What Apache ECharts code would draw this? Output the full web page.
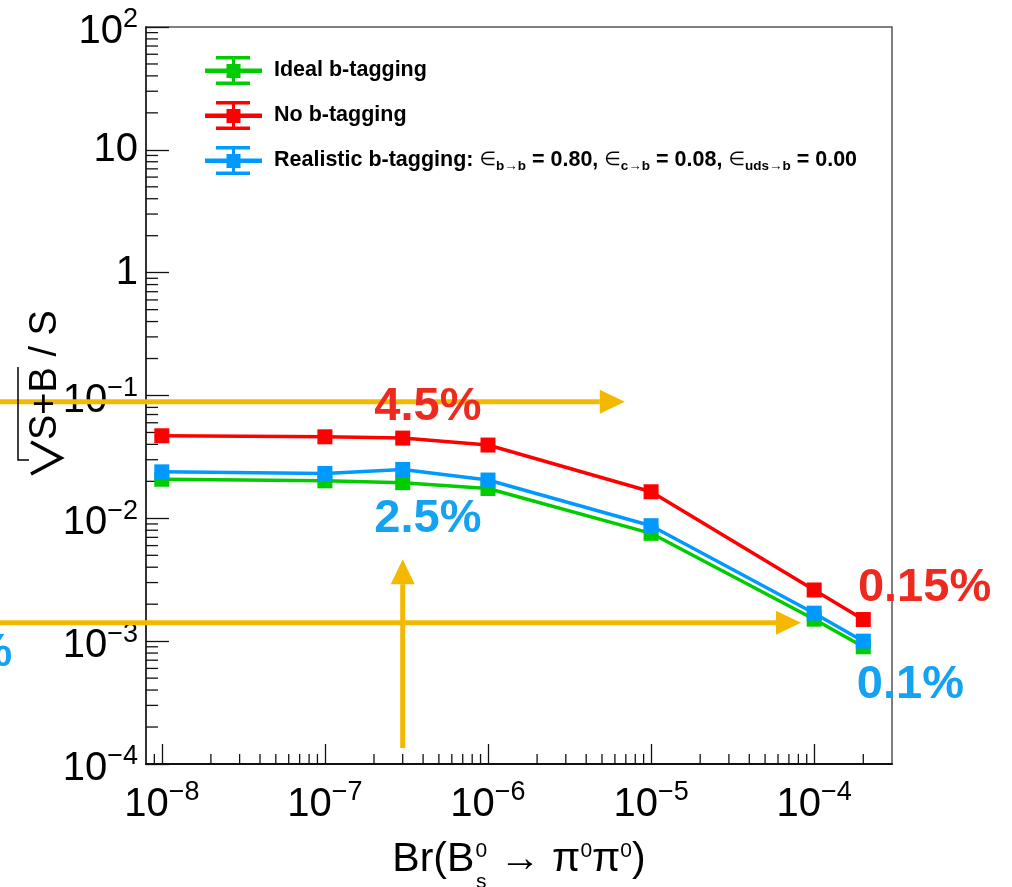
<!DOCTYPE html>
<html>
<head>
<meta charset="utf-8">
<script src="https://cdn.jsdelivr.net/npm/echarts@6/dist/echarts.min.js"></script>
<style>
  html, body { margin: 0; padding: 0; background: #ffffff; }
  #chart { width: 1012px; height: 887px; }
</style>
</head>
<body>
<div id="chart"></div>
<script>
const FONT = "'Liberation Sans', Arial, Helvetica, sans-serif";

// Branching ratios at which the precision was evaluated
const branchingRatios = [1e-8, 1e-7, 3e-7, 1e-6, 1e-5, 1e-4, 2e-4];

// sqrt(S+B)/S for each b-tagging scenario
const idealTagging     = [0.0208, 0.0202, 0.0195, 0.0175, 0.00755, 0.00151, 0.00090];
const noTagging        = [0.0470, 0.0461, 0.0450, 0.0395, 0.01645, 0.00261, 0.00150];
const realisticTagging = [0.0239, 0.0232, 0.0250, 0.0205, 0.00871, 0.00169, 0.00100];

const seriesNames  = ['Ideal b-tagging', 'No b-tagging', 'Realistic b-tagging'];
const seriesColors = ['#00cc00', '#ff0000', '#0099ff'];

// Axis ranges and minor tick multipliers inside each decade
const xRange = [8e-9, 3e-4];
const yRange = [1e-4, 1e2];
const minorMultipliers = [2, 3, 4, 5, 6, 7, 8, 9];

// Highlight arrows (data coordinates): start -> end
const arrowStartX = [1e-9, 1e-9, 3e-7];
const arrowStartY = [0.0889, 0.00141, 1.35e-4];
const arrowEndX   = [6.9e-6, 8.3e-5, 3e-7];
const arrowEndY   = [0.0889, 0.00141, 0.00464];

// Percentage notes (data coordinates)
const noteTexts  = ['4.5%', '2.5%', '0.15%', '0.1%', '0.1%'];
const noteX      = [4.28e-7, 4.28e-7, 4.75e-4, 3.89e-4, 1.21e-9];
const noteY      = [0.081, 0.0099, 0.00272, 0.000440, 0.0008];
const noteColors = ['#ee2a1f', '#14a2f2', '#ee2a1f', '#14a2f2', '#14a2f2'];
const noteAlign  = ['center', 'center', 'center', 'center', 'right'];

const ARROW_COLOR = '#f5b800';

function pairs(xs, ys) { return xs.map((x, i) => [x, ys[i]]); }

function minorTickValues(range) {
  const out = [];
  const lo = Math.floor(Math.log10(range[0]));
  const hi = Math.ceil(Math.log10(range[1]));
  for (let d = lo; d < hi; d++) {
    for (const m of minorMultipliers) {
      const v = m * Math.pow(10, d);
      if (v > range[0] * 1.0001 && v < range[1] * 0.9999) out.push(v);
    }
  }
  return out;
}

function powerLabel(v) {
  const lg = Math.log10(v);
  const e = Math.round(lg);
  if (Math.abs(lg - e) > 1e-6) return '';
  if (e === 0) return '{p|1}';
  if (e === 1) return '{p|10}';
  return '{m|10}{s|' + (e < 0 ? '\u2212' : '') + Math.abs(e) + '}';
}

const tickRich = {
  p: { fontFamily: FONT, fontSize: 40, lineHeight: 40, color: '#000', verticalAlign: 'middle' },
  m: { fontFamily: FONT, fontSize: 40, lineHeight: 40, height: 30, color: '#000', verticalAlign: 'bottom' },
  s: { fontFamily: FONT, fontSize: 27, lineHeight: 40, height: 26, color: '#000', verticalAlign: 'top' }
};

// Error-bar style legend glyph
const errorBarIcon = 'path://M0,12.5h57v4.5h-57z M27,0h3v29h-3z M11,0h34v3.5h-34z M11,25.5h34v3.5h-34z M21.5,8h14v14h-14z';

const lineSeries = [idealTagging, noTagging, realisticTagging].map((vals, i) => ({
  name: seriesNames[i],
  type: 'line',
  data: pairs(branchingRatios, vals),
  color: seriesColors[i],
  symbol: 'rect',
  symbolSize: 15,
  lineStyle: { width: 3.5, color: seriesColors[i] },
  itemStyle: { color: seriesColors[i] },
  emphasis: { disabled: true },
  z: 3 + i
}));

const xMinorSeries = {
  type: 'custom',
  silent: true,
  z: 2,
  data: minorTickValues(xRange).map(v => [v, yRange[0]]),
  renderItem(params, api) {
    const p = api.coord([api.value(0), api.value(1)]);
    return { type: 'line', shape: { x1: p[0], y1: p[1], x2: p[0], y2: p[1] - 10 },
             style: { stroke: '#111', lineWidth: 1.3 } };
  }
};

const yMinorSeries = {
  type: 'custom',
  silent: true,
  z: 2,
  data: minorTickValues(yRange).map(v => [xRange[0], v]),
  renderItem(params, api) {
    const p = api.coord([api.value(0), api.value(1)]);
    return { type: 'line', shape: { x1: p[0], y1: p[1], x2: p[0] + 12, y2: p[1] },
             style: { stroke: '#111', lineWidth: 1.3 } };
  }
};

const arrowSeries = {
  type: 'custom',
  silent: true,
  clip: false,
  z: 6,
  data: arrowStartX.map((x, i) => [x, arrowStartY[i], arrowEndX[i], arrowEndY[i]]),
  encode: { x: [0, 2], y: [1, 3] },
  renderItem(params, api) {
    const a = api.coord([api.value(0), api.value(1)]);
    const b = api.coord([api.value(2), api.value(3)]);
    const dx = b[0] - a[0], dy = b[1] - a[1];
    const len = Math.sqrt(dx * dx + dy * dy);
    const ux = dx / len, uy = dy / len;
    const headLen = 25, headHalf = 12;
    const bx = b[0] - ux * headLen, by = b[1] - uy * headLen;
    return {
      type: 'group',
      children: [
        { type: 'line', shape: { x1: a[0], y1: a[1], x2: bx, y2: by },
          style: { stroke: ARROW_COLOR, lineWidth: 5 } },
        { type: 'polygon', shape: { points: [
            [b[0], b[1]],
            [bx - uy * headHalf, by + ux * headHalf],
            [bx + uy * headHalf, by - ux * headHalf]
          ] }, style: { fill: ARROW_COLOR } }
      ]
    };
  }
};

const noteSeries = {
  type: 'custom',
  silent: true,
  clip: false,
  z: 7,
  data: pairs(noteX, noteY),
  renderItem(params, api) {
    const i = params.dataIndex;
    const p = api.coord([api.value(0), api.value(1)]);
    return {
      type: 'text',
      x: p[0], y: p[1],
      style: {
        text: noteTexts[i], fill: noteColors[i],
        fontFamily: FONT, fontSize: 47, fontWeight: 'bold',
        align: noteAlign[i], verticalAlign: 'middle'
      }
    };
  }
};

const legendRich = {
  gap: { width: 7, fontSize: 21 },
  t: { fontFamily: FONT, fontSize: 21.5, fontWeight: 'bold', color: '#000', lineHeight: 24, verticalAlign: 'middle' },
  e: { fontFamily: "'DejaVu Sans', " + FONT, fontSize: 19, fontWeight: 'normal', color: '#000', lineHeight: 24, verticalAlign: 'middle' },
  u: { fontFamily: FONT, fontSize: 13.5, fontWeight: 'bold', color: '#000', lineHeight: 24, height: 12, verticalAlign: 'bottom' }
};

const option = {
  backgroundColor: '#ffffff',
  animation: false,
  grid: {
    left: 146, top: 27, right: 120, bottom: 123,
    show: true, borderColor: '#555', borderWidth: 1.5,
    containLabel: false, outerBoundsMode: 'none'
  },
  legend: {
    orient: 'vertical',
    left: 205, top: 56, padding: 0,
    itemWidth: 57, itemHeight: 29, itemGap: 16,
    selectedMode: false,
    data: seriesNames.map(n => ({ name: n, icon: errorBarIcon })),
    formatter(name) {
      if (name === 'Realistic b-tagging') {
        return '{gap| }{t|Realistic b-tagging: }{e|\u2208}{u|b\u2192b}{t| = 0.80, }{e|\u2208}{u|c\u2192b}{t| = 0.08, }{e|\u2208}{u|uds\u2192b}{t| = 0.00}';
      }
      return '{gap| }{t|' + name + '}';
    },
    textStyle: { fontFamily: FONT, fontSize: 21.5, fontWeight: 'bold', color: '#000', rich: legendRich }
  },
  xAxis: {
    type: 'log', logBase: 10,
    min: xRange[0], max: xRange[1],
    splitLine: { show: false },
    axisLine: { show: true, lineStyle: { color: '#111', width: 2 } },
    axisTick: { show: true, inside: true, length: 20, lineStyle: { color: '#111', width: 1.3 } },
    axisLabel: {
      margin: 16, showMinLabel: false, showMaxLabel: false,
      formatter: powerLabel, rich: tickRich
    },
    name: '{n|Br(B}{sp| }{sb|s}{su|0}{sp| }{n| \u2192 \u03c0}{sq|0}{n|\u03c0}{sq|0}{n|)}',
    nameLocation: 'middle',
    nameGap: 58,
    nameTextStyle: {
      rich: {
        n:  { fontFamily: FONT, fontSize: 41, color: '#000', lineHeight: 60, verticalAlign: 'middle' },
        sp: { fontFamily: FONT, fontSize: 20, width: 7, lineHeight: 60, verticalAlign: 'middle' },
        su: { fontFamily: FONT, fontSize: 21, color: '#000', width: 0, height: 42, lineHeight: 60, verticalAlign: 'top' },
        sb: { fontFamily: FONT, fontSize: 21, color: '#000', width: 0, height: 16, lineHeight: 60, verticalAlign: 'bottom' },
        sq: { fontFamily: FONT, fontSize: 21, color: '#000', height: 42, lineHeight: 60, verticalAlign: 'top' }
      }
    }
  },
  yAxis: {
    type: 'log', logBase: 10,
    min: yRange[0], max: yRange[1],
    splitLine: { show: false },
    axisLine: { show: true, lineStyle: { color: '#333', width: 2 } },
    axisTick: { show: true, inside: true, length: 23, lineStyle: { color: '#111', width: 1.3 } },
    axisLabel: { margin: 8, formatter: powerLabel, rich: tickRich }
  },
  graphic: [{
    // y-axis title: sqrt(S+B) / S, reading bottom to top, kept above the arrows
    type: 'group',
    x: 46, y: 393,
    rotation: Math.PI / 2,
    silent: true,
    z: 20,
    children: [
      { type: 'text', x: -47, y: 0, z: 20,
        style: { text: 'S+B / S', fontFamily: FONT, fontSize: 38, fill: '#000', align: 'left', verticalAlign: 'middle' } },
      { type: 'polyline', z: 20, shape: { points: [[-81, -15], [-65, 15], [-49, -15]] },
        style: { stroke: '#000', lineWidth: 3.5, fill: null } },
      { type: 'polyline', z: 20, shape: { points: [[-67, -17], [-67, -28], [26, -28]] },
        style: { stroke: '#000', lineWidth: 1.5, fill: null } }
    ]
  }],
  series: [xMinorSeries, yMinorSeries, ...lineSeries, arrowSeries, noteSeries]
};

const chart = echarts.init(document.getElementById('chart'), null, { renderer: 'canvas' });
chart.setOption(option);
</script>
</body>
</html>
